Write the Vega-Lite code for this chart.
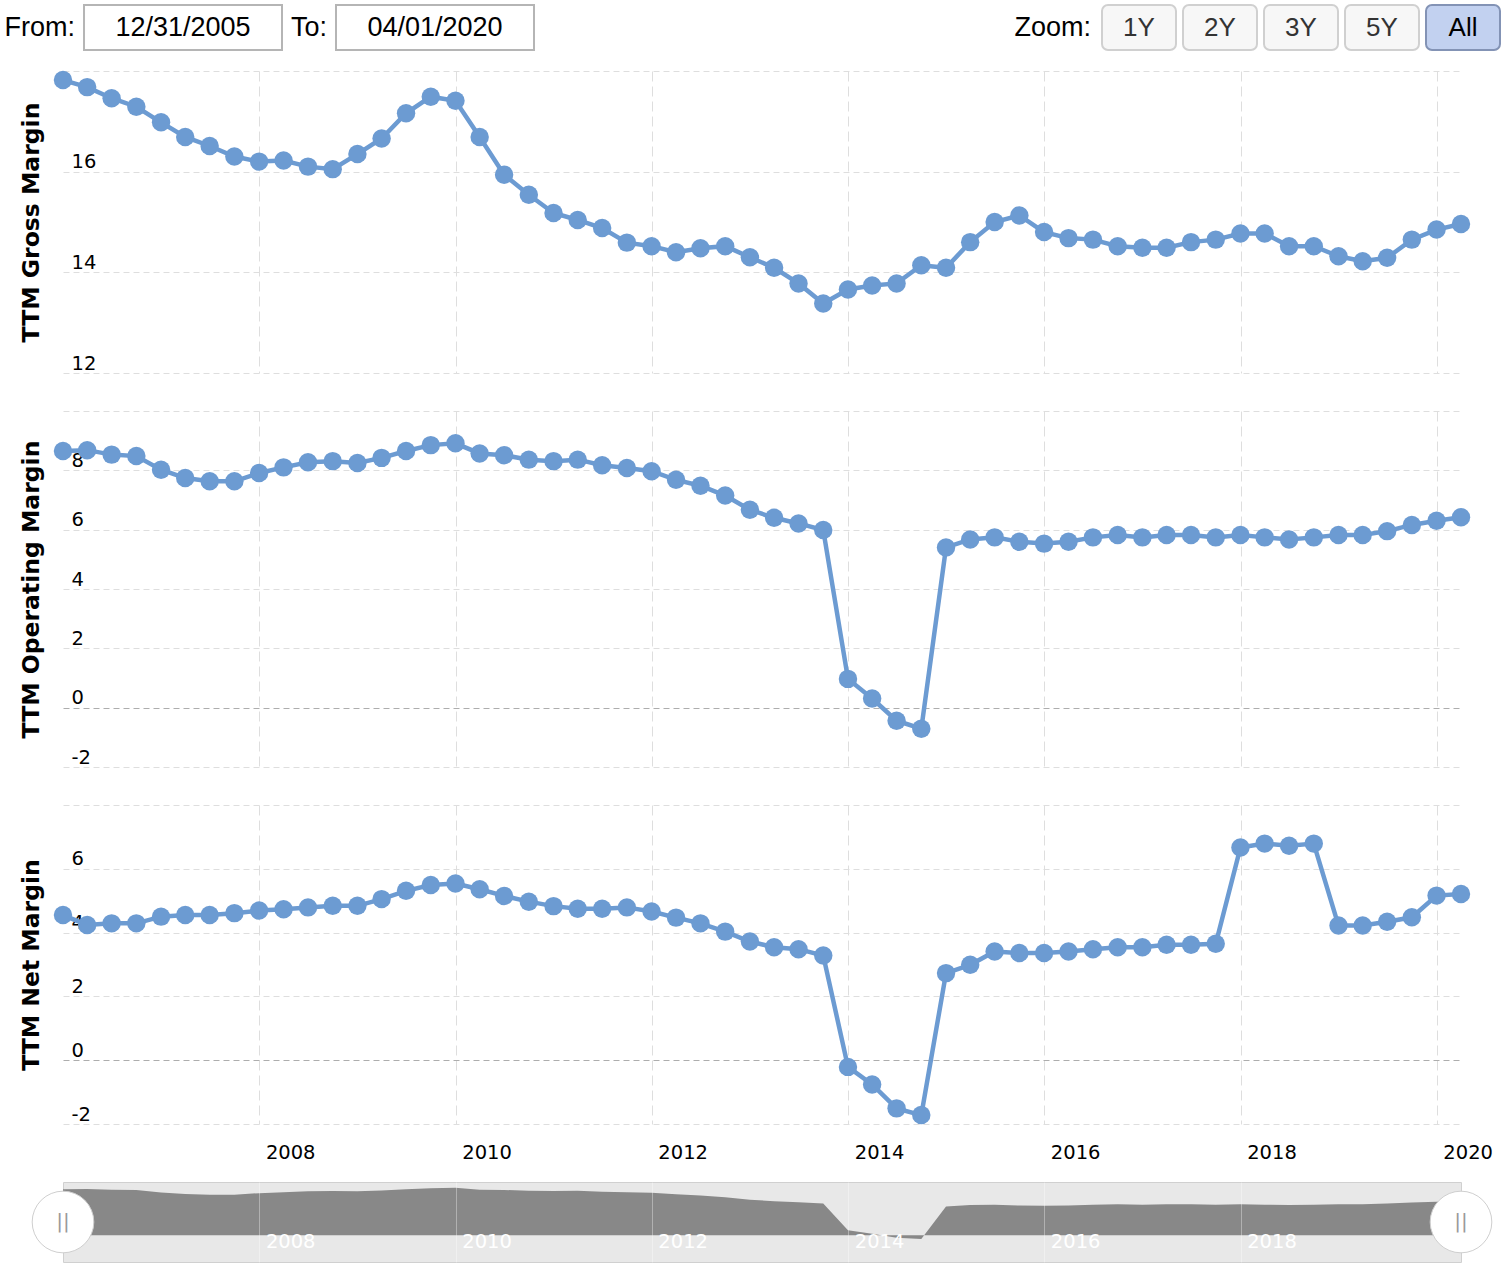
{
  "$schema": "https://vega.github.io/schema/vega-lite/v6.json",
  "background": "white",
  "padding": {"left": 4, "top": 4, "right": 0, "bottom": 0},
  "autosize": {"type": "pad"},
  "config": {
    "view": {"stroke": null},
    "font": "DejaVu Sans",
    "axis": {"labelFont": "DejaVu Sans", "titleFont": "DejaVu Sans"}
  },
  "datasets": {
    "margins": [
      {"date": "2005-12-31", "gross": 17.82, "operating": 8.65, "net": 4.55},
      {"date": "2006-03-31", "gross": 17.68, "operating": 8.68, "net": 4.24},
      {"date": "2006-06-30", "gross": 17.46, "operating": 8.53, "net": 4.29},
      {"date": "2006-09-30", "gross": 17.29, "operating": 8.48, "net": 4.29},
      {"date": "2006-12-31", "gross": 16.98, "operating": 8.02, "net": 4.50},
      {"date": "2007-03-31", "gross": 16.69, "operating": 7.74, "net": 4.55},
      {"date": "2007-06-30", "gross": 16.51, "operating": 7.63, "net": 4.55},
      {"date": "2007-09-30", "gross": 16.30, "operating": 7.63, "net": 4.61},
      {"date": "2007-12-31", "gross": 16.20, "operating": 7.91, "net": 4.69},
      {"date": "2008-03-31", "gross": 16.22, "operating": 8.10, "net": 4.73},
      {"date": "2008-06-30", "gross": 16.10, "operating": 8.27, "net": 4.79},
      {"date": "2008-09-30", "gross": 16.05, "operating": 8.31, "net": 4.84},
      {"date": "2008-12-31", "gross": 16.35, "operating": 8.25, "net": 4.84},
      {"date": "2009-03-31", "gross": 16.66, "operating": 8.42, "net": 5.05},
      {"date": "2009-06-30", "gross": 17.16, "operating": 8.65, "net": 5.31},
      {"date": "2009-09-30", "gross": 17.49, "operating": 8.85, "net": 5.49},
      {"date": "2009-12-31", "gross": 17.41, "operating": 8.91, "net": 5.54},
      {"date": "2010-03-31", "gross": 16.69, "operating": 8.57, "net": 5.36},
      {"date": "2010-06-30", "gross": 15.94, "operating": 8.51, "net": 5.15},
      {"date": "2010-09-30", "gross": 15.54, "operating": 8.36, "net": 4.97},
      {"date": "2010-12-31", "gross": 15.18, "operating": 8.31, "net": 4.83},
      {"date": "2011-03-31", "gross": 15.04, "operating": 8.36, "net": 4.75},
      {"date": "2011-06-30", "gross": 14.88, "operating": 8.17, "net": 4.75},
      {"date": "2011-09-30", "gross": 14.59, "operating": 8.08, "net": 4.79},
      {"date": "2011-12-31", "gross": 14.52, "operating": 7.97, "net": 4.66},
      {"date": "2012-03-31", "gross": 14.40, "operating": 7.68, "net": 4.47},
      {"date": "2012-06-30", "gross": 14.48, "operating": 7.48, "net": 4.29},
      {"date": "2012-09-30", "gross": 14.52, "operating": 7.15, "net": 4.03},
      {"date": "2012-12-31", "gross": 14.30, "operating": 6.67, "net": 3.72},
      {"date": "2013-03-31", "gross": 14.09, "operating": 6.40, "net": 3.54},
      {"date": "2013-06-30", "gross": 13.78, "operating": 6.21, "net": 3.48},
      {"date": "2013-09-30", "gross": 13.38, "operating": 5.99, "net": 3.28},
      {"date": "2013-12-31", "gross": 13.66, "operating": 0.97, "net": -0.21},
      {"date": "2014-03-31", "gross": 13.74, "operating": 0.31, "net": -0.76},
      {"date": "2014-06-30", "gross": 13.78, "operating": -0.44, "net": -1.51},
      {"date": "2014-09-30", "gross": 14.14, "operating": -0.71, "net": -1.72},
      {"date": "2014-12-31", "gross": 14.09, "operating": 5.40, "net": 2.73},
      {"date": "2015-03-31", "gross": 14.60, "operating": 5.67, "net": 2.99},
      {"date": "2015-06-30", "gross": 15.00, "operating": 5.74, "net": 3.41},
      {"date": "2015-09-30", "gross": 15.13, "operating": 5.59, "net": 3.36},
      {"date": "2015-12-31", "gross": 14.80, "operating": 5.53, "net": 3.36},
      {"date": "2016-03-31", "gross": 14.68, "operating": 5.59, "net": 3.41},
      {"date": "2016-06-30", "gross": 14.65, "operating": 5.74, "net": 3.48},
      {"date": "2016-09-30", "gross": 14.52, "operating": 5.82, "net": 3.54},
      {"date": "2016-12-31", "gross": 14.49, "operating": 5.74, "net": 3.54},
      {"date": "2017-03-31", "gross": 14.49, "operating": 5.82, "net": 3.62},
      {"date": "2017-06-30", "gross": 14.60, "operating": 5.82, "net": 3.62},
      {"date": "2017-09-30", "gross": 14.65, "operating": 5.74, "net": 3.65},
      {"date": "2017-12-31", "gross": 14.77, "operating": 5.82, "net": 6.67},
      {"date": "2018-03-31", "gross": 14.77, "operating": 5.74, "net": 6.79},
      {"date": "2018-06-30", "gross": 14.52, "operating": 5.67, "net": 6.72},
      {"date": "2018-09-30", "gross": 14.52, "operating": 5.74, "net": 6.79},
      {"date": "2018-12-31", "gross": 14.32, "operating": 5.82, "net": 4.22},
      {"date": "2019-03-31", "gross": 14.22, "operating": 5.82, "net": 4.22},
      {"date": "2019-06-30", "gross": 14.29, "operating": 5.95, "net": 4.34},
      {"date": "2019-09-30", "gross": 14.65, "operating": 6.16, "net": 4.48},
      {"date": "2019-12-31", "gross": 14.85, "operating": 6.30, "net": 5.16},
      {"date": "2020-03-31", "gross": 14.96, "operating": 6.42, "net": 5.21}
    ],
    "fromto": [
      {"prefix": "From:", "value": "12/31/2005"},
      {"prefix": "To:", "value": "04/01/2020"}
    ],
    "zoom": [
      {"prefix": "Zoom:", "label": "1Y", "selected": false},
      {"prefix": "", "label": "2Y", "selected": false},
      {"prefix": "", "label": "3Y", "selected": false},
      {"prefix": "", "label": "5Y", "selected": false},
      {"prefix": "", "label": "All", "selected": true}
    ],
    "handles": [
      {"date": "2005-12-31", "grip": "||"},
      {"date": "2020-03-31", "grip": "||"}
    ]
  },
  "spacing": 19,
  "resolve": {"scale": {"x": "independent", "y": "independent"}},
  "vconcat": [
    {
      "hconcat": [
        {
          "width": 471,
          "height": 45,
          "data": {"name": "fromto"},
          "encoding": {
            "x": {"field": "value", "type": "nominal", "sort": null, "axis": null,
                  "scale": {"type": "band", "paddingInner": 0.2143, "paddingOuter": 0.0417, "align": 1}}
          },
          "layer": [
            {"mark": {"type": "bar", "fill": "white", "stroke": "#b5b5b5", "strokeWidth": 2}},
            {"mark": {"type": "text", "font": "Liberation Sans", "fontSize": 27, "fill": "#000"},
             "encoding": {"text": {"field": "value"}}},
            {"mark": {"type": "text", "font": "Liberation Sans", "fontSize": 27, "fill": "#000", "align": "right", "dx": -9},
             "encoding": {"x": {"field": "value", "type": "nominal", "sort": null, "bandPosition": 0}, "text": {"field": "prefix"}}}
          ]
        },
        {
          "width": 398,
          "height": 45,
          "data": {"name": "zoom"},
          "encoding": {
            "x": {"field": "label", "type": "nominal", "sort": null, "axis": null,
                  "scale": {"type": "band", "paddingInner": 0.0864, "paddingOuter": 0}}
          },
          "layer": [
            {"mark": {"type": "bar", "cornerRadius": 6, "strokeWidth": 2},
             "encoding": {
               "fill": {"condition": {"test": "datum.selected", "value": "#c2d1f0"}, "value": "#f7f7f7"},
               "stroke": {"condition": {"test": "datum.selected", "value": "#8393b5"}, "value": "#d0d0d0"}
             }},
            {"mark": {"type": "text", "font": "Liberation Sans", "fontSize": 26},
             "encoding": {"text": {"field": "label"},
               "fill": {"condition": {"test": "datum.selected", "value": "#000000"}, "value": "#333333"}}},
            {"mark": {"type": "text", "font": "Liberation Sans", "fontSize": 27, "fill": "#000", "align": "right", "dx": -11},
             "encoding": {"x": {"field": "label", "type": "nominal", "sort": null, "bandPosition": 0}, "text": {"field": "prefix"}}}
          ]
        }
      ],
      "spacing": 568,
      "bounds": "flush",
      "resolve": {"scale": {"x": "independent", "y": "independent"}}
    },
    {
      "spacing": 19,
      "resolve": {"scale": {"x": "independent", "y": "independent"}},
      "vconcat": [
        {
          "spacing": 38,
          "resolve": {"scale": {"x": "independent", "y": "independent"}},
          "vconcat": [
            {
              "width": 1398,
              "height": 302,
              "data": {"name": "margins"},
              "encoding": {
                "x": {"field": "date", "type": "temporal",
                      "scale": {"type": "utc", "domain": [{"year": 2005, "month": 12, "date": 31, "utc": true}, {"year": 2020, "month": 3, "date": 31, "utc": true}]},
                      "axis": {"title": null, "labels": false, "ticks": false, "domain": false, "grid": true, "gridColor": "#dedede", "gridDash": [10, 5],
                               "values": [{"year": 2008, "month": 1, "date": 1, "utc": true}, {"year": 2010, "month": 1, "date": 1, "utc": true}, {"year": 2012, "month": 1, "date": 1, "utc": true}, {"year": 2014, "month": 1, "date": 1, "utc": true}, {"year": 2016, "month": 1, "date": 1, "utc": true}, {"year": 2018, "month": 1, "date": 1, "utc": true}, {"year": 2020, "month": 1, "date": 1, "utc": true}]}},
                "y": {"field": "gross", "type": "quantitative",
                      "scale": {"domain": [12, 18], "nice": false, "zero": false},
                      "axis": {"title": "TTM Gross Margin", "values": [12, 14, 16, 18], "labelExpr": "datum.value == 18 ? '' : '' + datum.value",
                               "grid": true, "gridColor": {"condition": {"test": "datum.value === 0", "value": "#adadad"}, "value": "#dedede"}, "gridDash": [6, 4],
                               "domain": false, "ticks": false, "tickSize": 0, "labelAlign": "left", "labelBaseline": "bottom", "labelPadding": -8,
                               "labelFontSize": 19.5, "labelColor": "#000", "titleFontSize": 23.5, "titleFontWeight": "bold", "titleColor": "#000", "titlePadding": 20}}
              },
              "layer": [
                {"mark": {"type": "line", "color": "#6c9bd2", "strokeWidth": 4.5}},
                {"mark": {"type": "point", "filled": true, "color": "#6c9bd2", "size": 340, "opacity": 1}}
              ]
            },
            {
              "width": 1398,
              "height": 356,
              "data": {"name": "margins"},
              "encoding": {
                "x": {"field": "date", "type": "temporal",
                      "scale": {"type": "utc", "domain": [{"year": 2005, "month": 12, "date": 31, "utc": true}, {"year": 2020, "month": 3, "date": 31, "utc": true}]},
                      "axis": {"title": null, "labels": false, "ticks": false, "domain": false, "grid": true, "gridColor": "#dedede", "gridDash": [10, 5],
                               "values": [{"year": 2008, "month": 1, "date": 1, "utc": true}, {"year": 2010, "month": 1, "date": 1, "utc": true}, {"year": 2012, "month": 1, "date": 1, "utc": true}, {"year": 2014, "month": 1, "date": 1, "utc": true}, {"year": 2016, "month": 1, "date": 1, "utc": true}, {"year": 2018, "month": 1, "date": 1, "utc": true}, {"year": 2020, "month": 1, "date": 1, "utc": true}]}},
                "y": {"field": "operating", "type": "quantitative",
                      "scale": {"domain": [-2, 10], "nice": false, "zero": false},
                      "axis": {"title": "TTM Operating Margin", "values": [-2, 0, 2, 4, 6, 8, 10], "labelExpr": "datum.value == 10 ? '' : '' + datum.value",
                               "grid": true, "gridColor": {"condition": {"test": "datum.value === 0", "value": "#adadad"}, "value": "#dedede"}, "gridDash": [6, 4],
                               "domain": false, "ticks": false, "tickSize": 0, "labelAlign": "left", "labelBaseline": "bottom", "labelPadding": -8,
                               "labelFontSize": 19.5, "labelColor": "#000", "titleFontSize": 23.5, "titleFontWeight": "bold", "titleColor": "#000", "titlePadding": 20}}
              },
              "layer": [
                {"mark": {"type": "line", "color": "#6c9bd2", "strokeWidth": 4.5}},
                {"mark": {"type": "point", "filled": true, "color": "#6c9bd2", "size": 340, "opacity": 1}}
              ]
            },
            {
              "width": 1398,
              "height": 319,
              "data": {"name": "margins"},
              "encoding": {
                "x": {"field": "date", "type": "temporal",
                      "scale": {"type": "utc", "domain": [{"year": 2005, "month": 12, "date": 31, "utc": true}, {"year": 2020, "month": 3, "date": 31, "utc": true}]},
                      "axis": {"title": null, "format": "%Y", "labels": true, "ticks": false, "tickSize": 0, "domain": false, "grid": true, "gridColor": "#dedede", "gridDash": [10, 5],
                               "labelAlign": "left", "labelOffset": 6, "labelPadding": 19, "labelFlush": false, "labelOverlap": false, "labelBound": false,
                               "labelFontSize": 19.5, "labelColor": "#000",
                               "values": [{"year": 2008, "month": 1, "date": 1, "utc": true}, {"year": 2010, "month": 1, "date": 1, "utc": true}, {"year": 2012, "month": 1, "date": 1, "utc": true}, {"year": 2014, "month": 1, "date": 1, "utc": true}, {"year": 2016, "month": 1, "date": 1, "utc": true}, {"year": 2018, "month": 1, "date": 1, "utc": true}, {"year": 2020, "month": 1, "date": 1, "utc": true}]}},
                "y": {"field": "net", "type": "quantitative",
                      "scale": {"domain": [-2, 8], "nice": false, "zero": false},
                      "axis": {"title": "TTM Net Margin", "values": [-2, 0, 2, 4, 6, 8], "labelExpr": "datum.value == 8 ? '' : '' + datum.value",
                               "grid": true, "gridColor": {"condition": {"test": "datum.value === 0", "value": "#adadad"}, "value": "#dedede"}, "gridDash": [6, 4],
                               "domain": false, "ticks": false, "tickSize": 0, "labelAlign": "left", "labelBaseline": "bottom", "labelPadding": -8,
                               "labelFontSize": 19.5, "labelColor": "#000", "titleFontSize": 23.5, "titleFontWeight": "bold", "titleColor": "#000", "titlePadding": 20}}
              },
              "layer": [
                {"mark": {"type": "line", "color": "#6c9bd2", "strokeWidth": 4.5}},
                {"mark": {"type": "point", "filled": true, "color": "#6c9bd2", "size": 340, "opacity": 1}}
              ]
            }
          ]
        },
        {
          "width": 1398,
          "height": 80,
          "view": {"fill": "#e8e8e8", "stroke": "#d0d0d0"},
          "layer": [
            {
              "data": {"name": "margins"},
              "mark": {"type": "area", "color": "#888888", "opacity": 1},
              "encoding": {
                "x": {"field": "date", "type": "temporal",
                      "scale": {"type": "utc", "domain": [{"year": 2005, "month": 12, "date": 31, "utc": true}, {"year": 2020, "month": 3, "date": 31, "utc": true}]},
                      "axis": {"title": null, "format": "%Y", "ticks": false, "tickSize": 0, "domain": false, "grid": true, "gridColor": "#ffffff", "gridOpacity": 0.35, "zindex": 1,
                               "labelAlign": "left", "labelOffset": 6, "labelPadding": -21, "labelBaseline": "middle", "labelFlush": false, "labelOverlap": false, "labelBound": false,
                               "labelFontSize": 19.5, "labelColor": "#ffffff",
                               "values": [{"year": 2008, "month": 1, "date": 1, "utc": true}, {"year": 2010, "month": 1, "date": 1, "utc": true}, {"year": 2012, "month": 1, "date": 1, "utc": true}, {"year": 2014, "month": 1, "date": 1, "utc": true}, {"year": 2016, "month": 1, "date": 1, "utc": true}, {"year": 2018, "month": 1, "date": 1, "utc": true}]}},
                "y": {"field": "operating", "type": "quantitative", "scale": {"domain": [-5, 10], "nice": false, "zero": false}, "axis": null},
                "y2": {"datum": 0}
              }
            },
            {
              "data": {"name": "handles"},
              "mark": {"type": "point", "shape": "circle", "filled": true, "fill": "#ffffff", "stroke": "#cfcfcf", "strokeWidth": 1, "size": 3800, "opacity": 1},
              "encoding": {
                "x": {"field": "date", "type": "temporal"},
                "y": {"datum": 2.5}
              }
            },
            {
              "data": {"name": "handles"},
              "mark": {"type": "text", "font": "DejaVu Sans", "fontSize": 20, "fill": "#9a9a9a"},
              "encoding": {
                "x": {"field": "date", "type": "temporal"},
                "y": {"datum": 2.5},
                "text": {"field": "grip"}
              }
            }
          ]
        }
      ]
    }
  ]
}
